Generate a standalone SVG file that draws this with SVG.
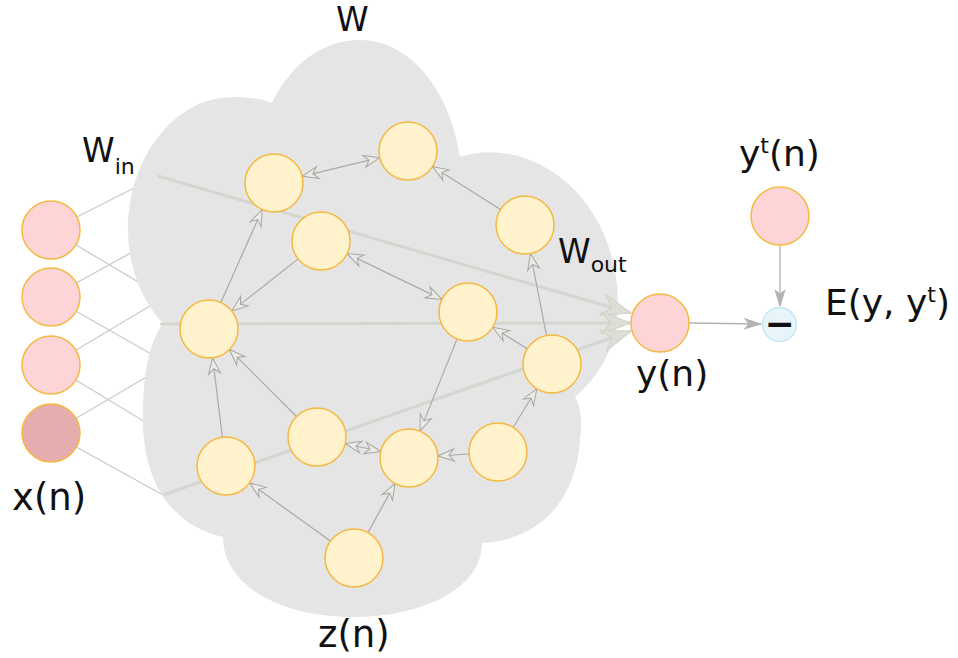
<svg xmlns="http://www.w3.org/2000/svg" width="958" height="658" viewBox="0 0 958 658">
<defs>
<style>
.lbl{font-family:"DejaVu Sans","Liberation Sans",sans-serif;fill:#111;}
.res{fill:#fff2cc;stroke:#f5b942;stroke-width:1.5;}
.inp{fill:#fdd5d7;stroke:#f5b942;stroke-width:1.5;}
.edge{stroke:#a9a9a9;stroke-width:1.2;fill:none;}
.win{stroke:#cbcbcb;stroke-width:1.3;fill:none;}
.big{stroke:#d6d6d1;stroke-width:3;fill:none;}
.outc{stroke:#b3b3b3;stroke-width:1.3;fill:none;}
</style>
<marker id="ah" viewBox="-18 -8 19 16" refX="0" refY="0" markerWidth="19" markerHeight="16" orient="auto-start-reverse" markerUnits="userSpaceOnUse">
<path d="M0,0 L-16,-6 L-11,0 L-16,6 Z" fill="#ececE4" stroke="#a6a6a6" stroke-width="1"/>
</marker>
<marker id="bigah" viewBox="-33 -14 34 28" refX="0" refY="0" markerWidth="34" markerHeight="28" orient="auto" markerUnits="userSpaceOnUse">
<path d="M0,0 L-30,-11 L-20,0 L-30,11 Z" fill="#deded6" stroke="#d2d2ca" stroke-width="1"/>
</marker>
<marker id="oah" viewBox="-17 -6 18 12" refX="0" refY="0" markerWidth="18" markerHeight="12" orient="auto" markerUnits="userSpaceOnUse">
<path d="M0,0 L-16,-5 L-12,0 L-16,5 Z" fill="#b3b3b3" stroke="#b3b3b3" stroke-width="1"/>
</marker>
</defs>

<g id="input-weights">
<line class="win" x1="51" y1="230" x2="158" y2="176"/>
<line class="win" x1="51" y1="230" x2="150" y2="289"/>
<line class="win" x1="51" y1="297" x2="145" y2="245"/>
<line class="win" x1="51" y1="297" x2="160" y2="359"/>
<line class="win" x1="51" y1="365" x2="160" y2="300"/>
<line class="win" x1="51" y1="365" x2="155" y2="428"/>
<line class="win" x1="51" y1="433" x2="160" y2="369"/>
<line class="win" x1="51" y1="433" x2="163" y2="495"/>
</g>

<g id="reservoir">
<path d="M163,323 C145,305 128,270 128,230 C128,157 175,97 233,97 C250,97 262,99 272,103 C290,65 322,40 360,40 C410,40 450,90 460,157 C525,135 615,190 618,300 C619,345 600,375 575,397 C582,410 582,425 580,440 C576,500 540,540 482,543 C482,590 420,617 353,617 C280,617 223,585 223,537 C170,525 143,480 143,420 C143,375 148,345 163,323 Z" fill="#e5e5e5"/>
</g>

<g id="output-weights">
<line class="big" x1="158" y1="176" x2="631" y2="313" marker-end="url(#bigah)"/>
<line class="big" x1="160" y1="324" x2="631" y2="323" marker-end="url(#bigah)"/>
<line class="big" x1="163" y1="495" x2="631" y2="331" marker-end="url(#bigah)"/>
</g>

<g id="connectors">
<line class="edge" x1="302.2" y1="176.3" x2="379.8" y2="157.7" marker-start="url(#ah)" marker-end="url(#ah)"/>
<line class="edge" x1="220.8" y1="302.5" x2="262.2" y2="209.5" marker-end="url(#ah)"/>
<line class="edge" x1="298.2" y1="258.9" x2="231.8" y2="311.1" marker-end="url(#ah)"/>
<line class="edge" x1="347.1" y1="253.6" x2="441.9" y2="299.4" marker-start="url(#ah)" marker-end="url(#ah)"/>
<line class="edge" x1="500.5" y1="209.5" x2="432.5" y2="166.5" marker-end="url(#ah)"/>
<line class="edge" x1="546.5" y1="335.5" x2="530.5" y2="253.5" marker-end="url(#ah)"/>
<line class="edge" x1="527.3" y1="348.7" x2="492.7" y2="327.3" marker-end="url(#ah)"/>
<line class="edge" x1="457.1" y1="338.9" x2="419.9" y2="431.1" marker-end="url(#ah)"/>
<line class="edge" x1="469.1" y1="454" x2="437.9" y2="456" marker-end="url(#ah)"/>
<line class="edge" x1="513.2" y1="427.3" x2="536.8" y2="388.7" marker-end="url(#ah)"/>
<line class="edge" x1="368" y1="532.6" x2="395" y2="483.4" marker-end="url(#ah)"/>
<line class="edge" x1="330.4" y1="541.1" x2="249.6" y2="482.9" marker-end="url(#ah)"/>
<line class="edge" x1="222.4" y1="437.2" x2="212.6" y2="357.8" marker-end="url(#ah)"/>
<line class="edge" x1="296.5" y1="416.5" x2="229.5" y2="349.5" marker-end="url(#ah)"/>
<line class="edge" x1="345.3" y1="443.5" x2="380.7" y2="451.5" marker-start="url(#ah)" marker-end="url(#ah)"/>
<line class="outc" x1="689" y1="323" x2="761" y2="324" marker-end="url(#oah)"/>
<line class="outc" x1="780" y1="245" x2="780" y2="306" marker-end="url(#oah)"/>
</g>

<g id="x1"><circle class="inp" cx="51" cy="230" r="29"/></g>
<g id="x2"><circle class="inp" cx="51" cy="297" r="29"/></g>
<g id="x3"><circle class="inp" cx="51" cy="365" r="29"/></g>
<g id="x4"><circle cx="51" cy="433" r="29" fill="#e5adad" stroke="#f5b942" stroke-width="1.5"/></g>

<g id="nA"><circle class="res" cx="274" cy="183" r="29"/></g>
<g id="nB"><circle class="res" cx="408" cy="151" r="29"/></g>
<g id="nC"><circle class="res" cx="321" cy="241" r="29"/></g>
<g id="nD"><circle class="res" cx="209" cy="329" r="29"/></g>
<g id="nE"><circle class="res" cx="468" cy="312" r="29"/></g>
<g id="nF"><circle class="res" cx="525" cy="225" r="29"/></g>
<g id="nG"><circle class="res" cx="552" cy="364" r="29"/></g>
<g id="nH"><circle class="res" cx="226" cy="466" r="29"/></g>
<g id="nI"><circle class="res" cx="317" cy="437" r="29"/></g>
<g id="nJ"><circle class="res" cx="409" cy="458" r="29"/></g>
<g id="nK"><circle class="res" cx="498" cy="452" r="29"/></g>
<g id="nL"><circle class="res" cx="354" cy="558" r="29"/></g>

<g id="y"><circle class="inp" cx="660" cy="323" r="29"/></g>
<g id="yt"><circle class="inp" cx="780" cy="216" r="29"/></g>
<g id="minus">
<circle cx="779.5" cy="324.5" r="17" fill="#e7f5fb" stroke="#c3e6f3" stroke-width="1.3"/>
<text x="779.5" y="336" text-anchor="middle" font-family="DejaVu Sans, sans-serif" font-weight="bold" font-size="36" fill="#111">−</text>
</g>

<g id="labels">
<text class="lbl" x="336" y="31" font-size="33">W</text>
<text class="lbl" x="82" y="162" font-size="33">W<tspan font-size="22" dy="12">in</tspan></text>
<text class="lbl" x="558" y="263" font-size="33">W<tspan font-size="22" dy="9">out</tspan></text>
<text class="lbl" x="12" y="510" font-size="37">x(n)</text>
<text class="lbl" x="318" y="647" font-size="37">z(n)</text>
<text class="lbl" x="636" y="386" font-size="36">y(n)</text>
<text class="lbl" x="739" y="166" font-size="36">y<tspan font-size="22" dy="-13">t</tspan><tspan dy="13">(n)</tspan></text>
<text class="lbl" x="825" y="315" font-size="36">E(y, y<tspan font-size="22" dy="-13">t</tspan><tspan dy="13">)</tspan></text>
</g>
</svg>
